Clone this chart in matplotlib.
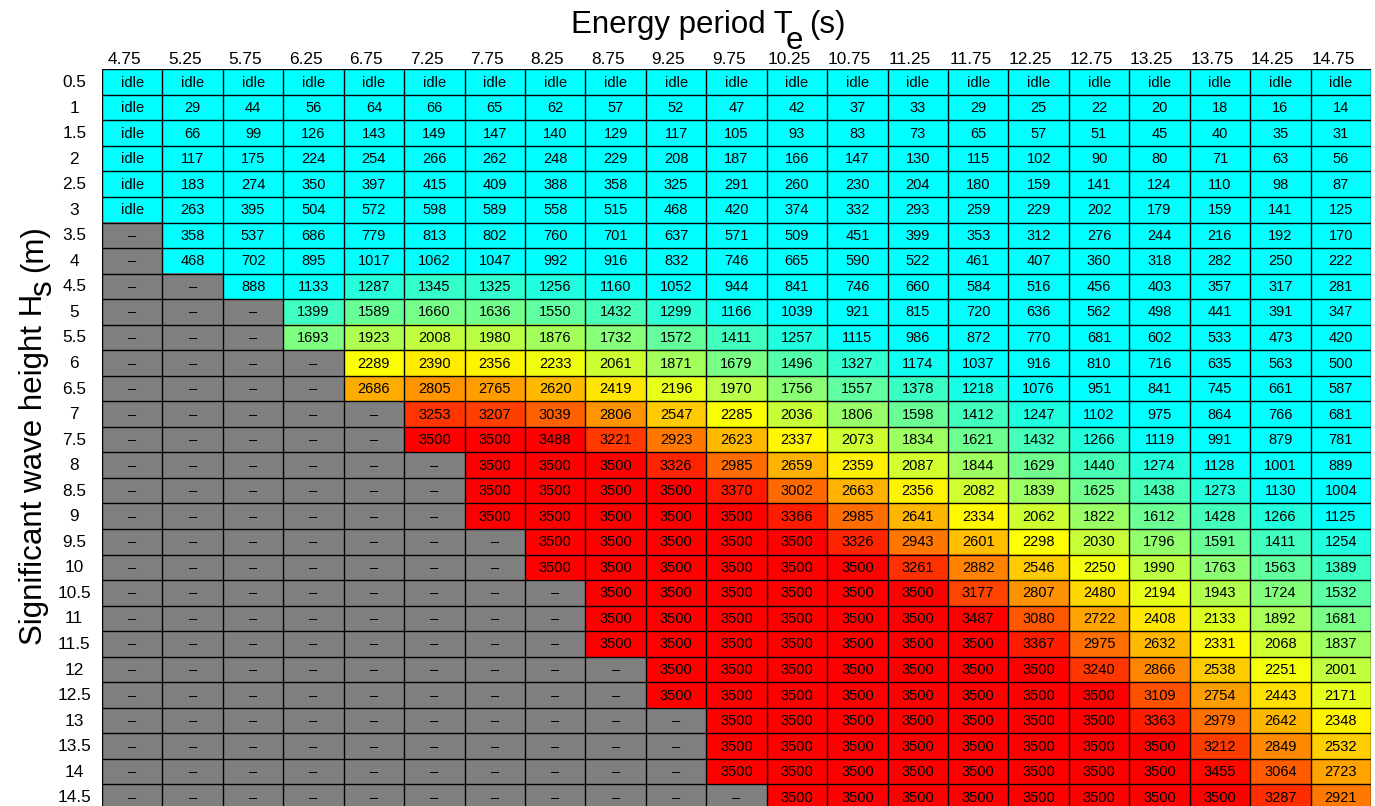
import numpy as np
import matplotlib
matplotlib.use('Agg')
import matplotlib.pyplot as plt
from matplotlib.colors import LinearSegmentedColormap, Normalize

plt.rcParams['font.family'] = ['Liberation Sans', 'DejaVu Sans']

# energy period (s) and significant wave height (m)
periods = [4.75, 5.25, 5.75, 6.25, 6.75, 7.25, 7.75, 8.25, 8.75, 9.25, 9.75,
           10.25, 10.75, 11.25, 11.75, 12.25, 12.75, 13.25, 13.75, 14.25, 14.75]
heights = [0.5, 1, 1.5, 2, 2.5, 3, 3.5, 4, 4.5, 5, 5.5, 6, 6.5, 7, 7.5, 8,
           8.5, 9, 9.5, 10, 10.5, 11, 11.5, 12, 12.5, 13, 13.5, 14, 14.5]

I = 'idle'
N = None  # outside operating range
power = [
    [I] * 21,
    [I, 29, 44, 56, 64, 66, 65, 62, 57, 52, 47, 42, 37, 33, 29, 25, 22, 20, 18, 16, 14],
    [I, 66, 99, 126, 143, 149, 147, 140, 129, 117, 105, 93, 83, 73, 65, 57, 51, 45, 40, 35, 31],
    [I, 117, 175, 224, 254, 266, 262, 248, 229, 208, 187, 166, 147, 130, 115, 102, 90, 80, 71, 63, 56],
    [I, 183, 274, 350, 397, 415, 409, 388, 358, 325, 291, 260, 230, 204, 180, 159, 141, 124, 110, 98, 87],
    [I, 263, 395, 504, 572, 598, 589, 558, 515, 468, 420, 374, 332, 293, 259, 229, 202, 179, 159, 141, 125],
    [N, 358, 537, 686, 779, 813, 802, 760, 701, 637, 571, 509, 451, 399, 353, 312, 276, 244, 216, 192, 170],
    [N, 468, 702, 895, 1017, 1062, 1047, 992, 916, 832, 746, 665, 590, 522, 461, 407, 360, 318, 282, 250, 222],
    [N, N, 888, 1133, 1287, 1345, 1325, 1256, 1160, 1052, 944, 841, 746, 660, 584, 516, 456, 403, 357, 317, 281],
    [N, N, N, 1399, 1589, 1660, 1636, 1550, 1432, 1299, 1166, 1039, 921, 815, 720, 636, 562, 498, 441, 391, 347],
    [N, N, N, 1693, 1923, 2008, 1980, 1876, 1732, 1572, 1411, 1257, 1115, 986, 872, 770, 681, 602, 533, 473, 420],
    [N, N, N, N, 2289, 2390, 2356, 2233, 2061, 1871, 1679, 1496, 1327, 1174, 1037, 916, 810, 716, 635, 563, 500],
    [N, N, N, N, 2686, 2805, 2765, 2620, 2419, 2196, 1970, 1756, 1557, 1378, 1218, 1076, 951, 841, 745, 661, 587],
    [N, N, N, N, N, 3253, 3207, 3039, 2806, 2547, 2285, 2036, 1806, 1598, 1412, 1247, 1102, 975, 864, 766, 681],
    [N, N, N, N, N, 3500, 3500, 3488, 3221, 2923, 2623, 2337, 2073, 1834, 1621, 1432, 1266, 1119, 991, 879, 781],
    [N, N, N, N, N, N, 3500, 3500, 3500, 3326, 2985, 2659, 2359, 2087, 1844, 1629, 1440, 1274, 1128, 1001, 889],
    [N, N, N, N, N, N, 3500, 3500, 3500, 3500, 3370, 3002, 2663, 2356, 2082, 1839, 1625, 1438, 1273, 1130, 1004],
    [N, N, N, N, N, N, 3500, 3500, 3500, 3500, 3500, 3366, 2985, 2641, 2334, 2062, 1822, 1612, 1428, 1266, 1125],
    [N, N, N, N, N, N, N, 3500, 3500, 3500, 3500, 3500, 3326, 2943, 2601, 2298, 2030, 1796, 1591, 1411, 1254],
    [N, N, N, N, N, N, N, 3500, 3500, 3500, 3500, 3500, 3500, 3261, 2882, 2546, 2250, 1990, 1763, 1563, 1389],
    [N, N, N, N, N, N, N, N, 3500, 3500, 3500, 3500, 3500, 3500, 3177, 2807, 2480, 2194, 1943, 1724, 1532],
    [N, N, N, N, N, N, N, N, 3500, 3500, 3500, 3500, 3500, 3500, 3487, 3080, 2722, 2408, 2133, 1892, 1681],
    [N, N, N, N, N, N, N, N, 3500, 3500, 3500, 3500, 3500, 3500, 3500, 3367, 2975, 2632, 2331, 2068, 1837],
    [N, N, N, N, N, N, N, N, N, 3500, 3500, 3500, 3500, 3500, 3500, 3500, 3240, 2866, 2538, 2251, 2001],
    [N, N, N, N, N, N, N, N, N, 3500, 3500, 3500, 3500, 3500, 3500, 3500, 3500, 3109, 2754, 2443, 2171],
    [N, N, N, N, N, N, N, N, N, N, 3500, 3500, 3500, 3500, 3500, 3500, 3500, 3363, 2979, 2642, 2348],
    [N, N, N, N, N, N, N, N, N, N, 3500, 3500, 3500, 3500, 3500, 3500, 3500, 3500, 3212, 2849, 2532],
    [N, N, N, N, N, N, N, N, N, N, 3500, 3500, 3500, 3500, 3500, 3500, 3500, 3500, 3455, 3064, 2723],
    [N, N, N, N, N, N, N, N, N, N, N, 3500, 3500, 3500, 3500, 3500, 3500, 3500, 3500, 3287, 2921],
]

# colour scale: cyan -> yellow -> red
cmap = LinearSegmentedColormap.from_list('cyr', [(0.0, '#00ffff'), (0.5, '#ffff00'), (1.0, '#ff0000')])
norm = Normalize(vmin=1100, vmax=3500, clip=True)
grey = np.array([0.5, 0.5, 0.5])

nrow, ncol = len(heights), len(periods)
rgb = np.zeros((nrow, ncol, 3))
for i in range(nrow):
    for j in range(ncol):
        v = power[i][j]
        if v is None:
            rgb[i, j] = grey
        elif v == I:
            rgb[i, j] = cmap(0.0)[:3]
        else:
            rgb[i, j] = cmap(norm(v))[:3]

W, H = 1375, 806
fig = plt.figure(figsize=(W / 100, H / 100), dpi=100)
top = 1 - 69.3 / H
h = nrow * 25.54 / H
ax = fig.add_axes([102 / W, top - h, 1269 / W, h])
ax.imshow(rgb, extent=(0, ncol, nrow, 0), aspect='auto', interpolation='nearest')
ax.vlines(np.arange(ncol + 1), 0, nrow, color='k', lw=1.0)
ax.hlines(np.arange(nrow + 1), 0, ncol, color='k', lw=1.0)
ax.set_xlim(0, ncol)
ax.set_ylim(nrow, 0)
ax.axis('off')

for i in range(nrow):
    for j in range(ncol):
        v = power[i][j]
        if v is None:
            s = '–'
        elif v == I:
            s = 'idle'
        else:
            s = str(v)
        ax.text(j + 0.5, i + 0.52, s, ha='center', va='center', fontsize=10.5)
    ax.text(-0.46, i + 0.52, '%g' % heights[i], ha='center', va='center',
            fontsize=12.4, clip_on=False)

for j in range(ncol):
    ax.text(j + 0.37, -0.21, '%g' % periods[j], ha='center', va='baseline',
            fontsize=12.4, clip_on=False)

# title with a full-size, dropped subscript
fs = 22.5
fig.text(793 / W, 1 - 33 / H, 'Energy period T', ha='right', va='baseline', fontsize=fs)
fig.text(786 / W, 1 - 49 / H, 'e', ha='left', va='baseline', fontsize=fs)
fig.text(809 / W, 1 - 33 / H, '(s)', ha='left', va='baseline', fontsize=fs)

# rotated y label, built piece by piece
r = fig.canvas.get_renderer()
t1 = fig.text(42 / W, 1 - 645 / H, 'Significant wave height H', rotation=90,
              rotation_mode='anchor', ha='left', va='baseline', fontsize=fs)
ext = t1.get_window_extent(renderer=r)
t2 = fig.text(51 / W, (ext.y1 - 2) / H, 's', rotation=90, rotation_mode='anchor',
              ha='left', va='baseline', fontsize=fs)
ext2 = t2.get_window_extent(renderer=r)
fig.text(42 / W, (ext2.y1 + 8) / H, '(m)', rotation=90, rotation_mode='anchor',
         ha='left', va='baseline', fontsize=fs)

fig.savefig('out.png', dpi=100)
